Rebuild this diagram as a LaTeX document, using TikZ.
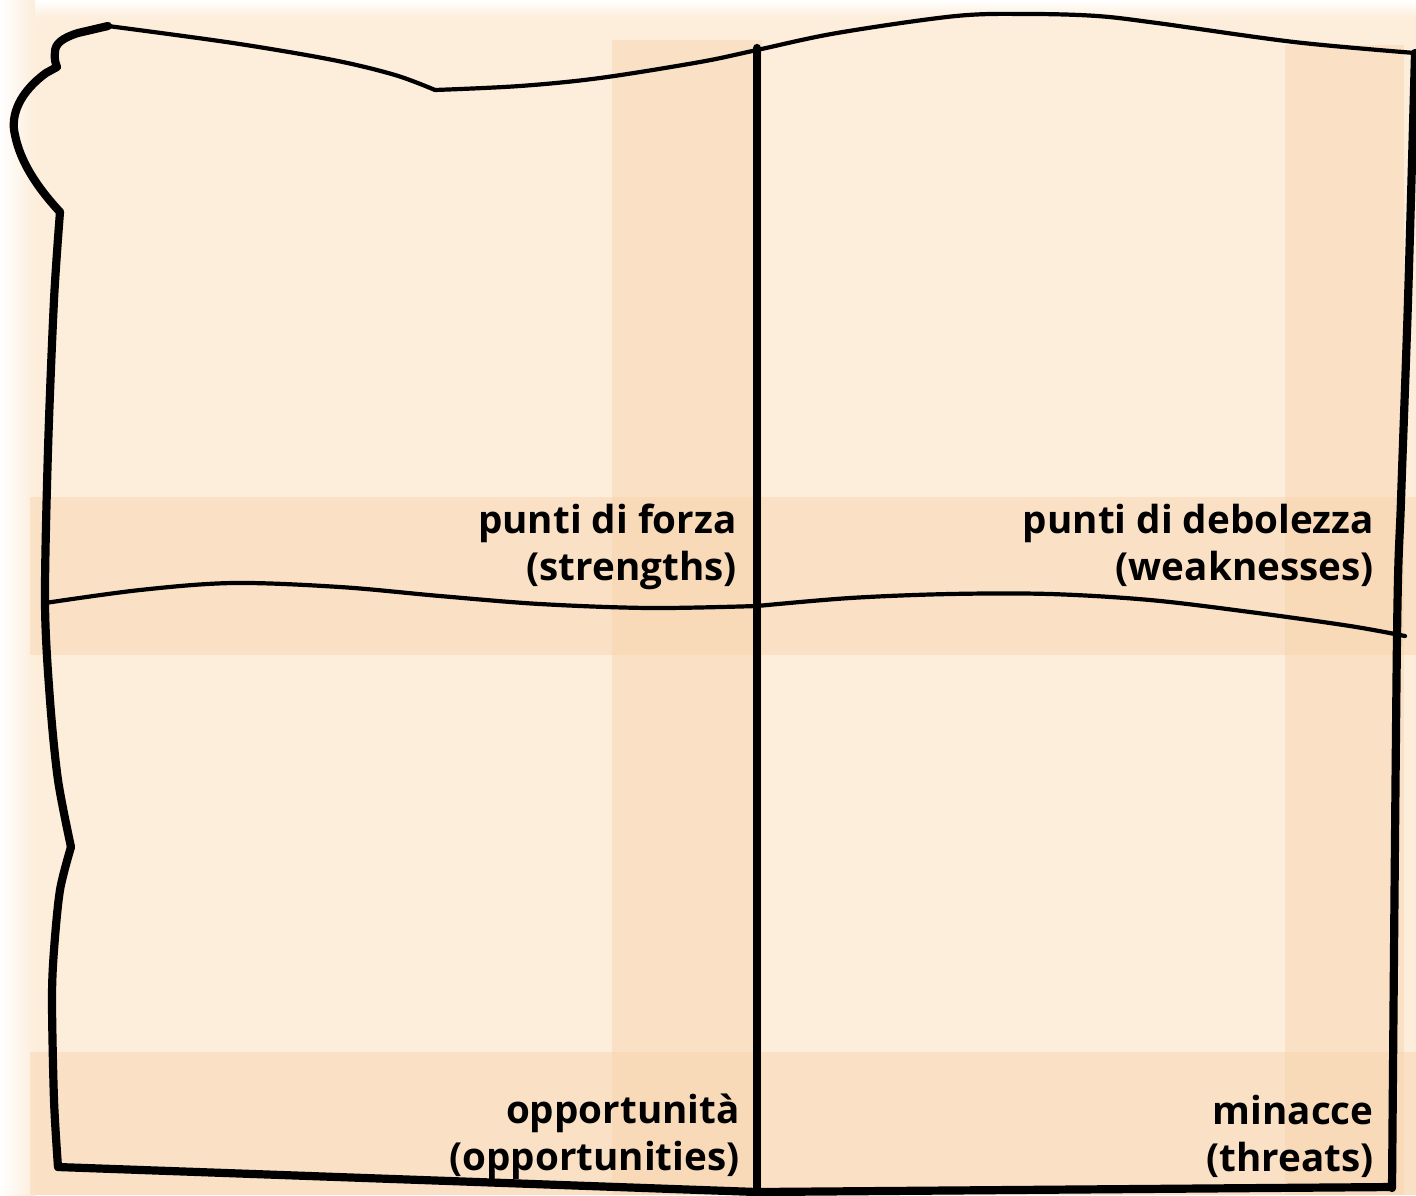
\documentclass[tikz,border=0pt]{standalone}
\usepackage{fontspec}
\newfontfamily\labfont{Open Sans}[UprightFont={* Bold}]
\definecolor{paper}{HTML}{FDEDDB}
\definecolor{wash}{HTML}{F6CDA2}
\tikzset{
  thin ink/.style={line width=2.1pt, line cap=round, line join=round, black},
  thick ink/.style={line width=4.1pt, line cap=round, line join=round, black},
  band/.style={fill=wash, opacity=0.37},
  label/.style={align=right, anchor=base east, inner sep=0pt,
    font=\labfont\fontsize{19.3}{23.5}\selectfont}
}
\begin{document}
\begin{tikzpicture}[x=0.5pt,y=-0.5pt]
\useasboundingbox (0,0) rectangle (1416,1195);
% paper
\fill[paper] (0,0) rectangle (1416,1195);
\shade[left color=white, right color=paper] (0,0) rectangle (35,1195);
\shade[top color=white, bottom color=paper] (35,0) rectangle (1416,18);
% watercolour bands
\fill[band] (612,40) rectangle (762,1195);
\fill[band] (1285,45) rectangle (1404,1195);
\fill[band] (30,497) rectangle (1416,655);
\fill[band] (30,1052) rectangle (1416,1195);
% top edge
\draw[thin ink] plot[smooth, tension=0.55] coordinates {(108,26) (233,43) (333,60) (395,75) (435,90)};
\draw[thin ink] plot[smooth, tension=0.55] coordinates {(435,90) (520,86) (600,78) (700,62) (757,50) (837,33) (956,16) (1030,14) (1097,16) (1157,23) (1294,42) (1415,53)};
% left contour
\draw[thick ink] (108,26) -- (78,33) .. controls (62,38) and (55,44) .. (55,52)
  .. controls (54,60) and (56,64) .. (57,67) -- (46,73)
  .. controls (20,92) and (10,115) .. (15,135)
  .. controls (20,160) and (35,185) .. (60,212);
\draw[thick ink] plot[smooth, tension=0.5] coordinates {(60,212) (54,300) (48,450) (45,603) (50,700) (58,780) (71,847)};
\draw[thick ink] plot[smooth, tension=0.5] coordinates {(71,847) (60,890) (54,950) (52,1000) (54,1100) (58,1167)};
% bottom edge
\draw[thick ink] (58,1167) -- (757,1192) -- (1392,1187);
% right edge
\draw[thick ink] plot[smooth, tension=0.5] coordinates {(1415,53) (1408,300) (1401,500) (1397,636) (1392,1188)};
% middle vertical
\draw[thick ink] (757,48) -- (757,1195);
% middle horizontal
\draw[thin ink] plot[smooth, tension=0.55] coordinates {(45,603) (140,590) (233,583) (340,587) (440,596) (540,604) (650,608) (757,606)};
\draw[thin ink] plot[smooth, tension=0.55] coordinates {(757,606) (850,598) (950,594) (1050,594) (1150,600) (1250,612) (1350,626) (1405,636)};
% labels
\node[label] (s) at (737,580) {punti di forza\\(strengths)};
\node[label] (w) at (1374,580) {punti di debolezza\\(weaknesses)};
\node[label] (o) at (740,1170) {opportunità\\(opportunities)};
\node[label] (t) at (1374,1171) {minacce\\(threats)};
\end{tikzpicture}
\end{document}
